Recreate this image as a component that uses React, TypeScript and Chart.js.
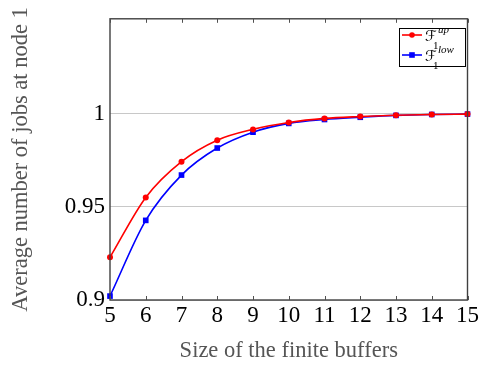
import React, { useEffect, useRef } from "react";
import { Chart, registerables } from "chart.js";

Chart.register(...registerables);

const bufferSizes = [5, 6, 7, 8, 9, 10, 11, 12, 13, 14, 15];
const upperBound = [0.9229, 0.955, 0.9742, 0.9857, 0.9915, 0.9952, 0.9974, 0.9984, 0.9991, 0.9995, 0.9997];
const lowerBound = [0.9021, 0.9427, 0.967, 0.9815, 0.9900, 0.9947, 0.9968, 0.998, 0.999, 0.9995, 0.9997];
const yTickValues = [0.9, 0.95, 1];
const xTickValues = [5, 6, 7, 8, 9, 10, 11, 12, 13, 14, 15];
const legendLabels = [
  { base: "ℱ", sub: "1", sup: "up" },
  { base: "ℱ", sub: "1", sup: "low" },
];

const SERIF = "'Liberation Serif', 'DejaVu Serif', serif";

const framePlugin = {
  id: "frame",
  afterDraw(chart: any) {
    const { ctx, chartArea } = chart;
    const { left, right, top, bottom } = chartArea;
    const xs = chart.scales.x;
    ctx.save();
    ctx.strokeStyle = "#404040";
    ctx.lineWidth = 1.4;
    ctx.strokeRect(left, top, right - left, bottom - top);
    ctx.lineWidth = 1;
    ctx.strokeStyle = "#505050";
    for (const v of xTickValues) {
      const px = Math.round(xs.getPixelForValue(v)) + 0.5;
      ctx.beginPath();
      ctx.moveTo(px, bottom);
      ctx.lineTo(px, bottom - 4);
      ctx.moveTo(px, top);
      ctx.lineTo(px, top + 4);
      ctx.stroke();
    }
    // legend
    const bx = 399, by = 28, bw = 66, bh = 38;
    ctx.fillStyle = "#ffffff";
    ctx.fillRect(bx, by, bw, bh);
    ctx.strokeStyle = "#000000";
    ctx.lineWidth = 1;
    ctx.strokeRect(bx + 0.5, by + 0.5, bw, bh);
    const colors = ["#ff0000", "#0000ff"];
    legendLabels.forEach((lab, i) => {
      const cy = by + 7 + i * 20;
      ctx.strokeStyle = colors[i];
      ctx.fillStyle = colors[i];
      ctx.lineWidth = 1.6;
      ctx.beginPath();
      ctx.moveTo(bx + 3, cy);
      ctx.lineTo(bx + 23, cy);
      ctx.stroke();
      if (i === 0) {
        ctx.beginPath();
        ctx.arc(bx + 13, cy, 2.8, 0, Math.PI * 2);
        ctx.fill();
      } else {
        ctx.fillRect(bx + 10.2, cy - 2.8, 5.6, 5.6);
      }
      ctx.fillStyle = "#000000";
      ctx.textBaseline = "alphabetic";
      ctx.textAlign = "left";
      ctx.font = `15px 'DejaVu Sans', ${SERIF}`;
      ctx.fillText(lab.base, bx + 26, cy + 6);
      ctx.font = `11px ${SERIF}`;
      ctx.fillText(lab.sub, bx + 34, cy + 14);
      ctx.font = `italic 11px ${SERIF}`;
      ctx.fillText(lab.sup, bx + 39, cy - 2);
    });
    ctx.restore();
  },
};

export default function App() {
  const canvasRef = useRef<HTMLCanvasElement | null>(null);

  useEffect(() => {
    if (!canvasRef.current) return;
    const chart = new Chart(canvasRef.current, {
      type: "line",
      data: {
        datasets: [
          {
            label: "upper",
            data: bufferSizes.map((x, i) => ({ x, y: upperBound[i] })),
            borderColor: "#ff0000",
            backgroundColor: "#ff0000",
            borderWidth: 1.6,
            pointStyle: "circle",
            pointRadius: 3,
            pointBorderWidth: 0,
            tension: 0.4,
            cubicInterpolationMode: "monotone",
            clip: false as any,
          },
          {
            label: "lower",
            data: bufferSizes.map((x, i) => ({ x, y: lowerBound[i] })),
            borderColor: "#0000ff",
            backgroundColor: "#0000ff",
            borderWidth: 1.6,
            pointStyle: "rect",
            pointRadius: 4,
            pointBorderWidth: 0,
            tension: 0.4,
            cubicInterpolationMode: "monotone",
            clip: false as any,
          },
        ],
      },
      options: {
        animation: false,
        responsive: false,
        maintainAspectRatio: false,
        layout: { padding: { top: 15, right: 12, left: 0, bottom: 0 } },
        plugins: {
          legend: { display: false },
          tooltip: { enabled: false },
        },
        scales: {
          x: {
            type: "linear",
            min: 5,
            max: 15,
            afterFit: (s: any) => {
              s.height = 66;
            },
            afterBuildTicks: (s: any) => {
              s.ticks = xTickValues.map((v) => ({ value: v }));
            },
            grid: { display: false, drawTicks: false },
            border: { display: false },
            ticks: {
              color: "#000000",
              font: { family: SERIF, size: 23 },
              padding: 2,
              maxRotation: 0,
              autoSkip: false,
            },
            title: {
              display: true,
              text: "Size of the finite buffers",
              color: "#555555",
              font: { family: SERIF, size: 22.5 },
              padding: { top: 1, bottom: 1 },
            },
          },
          y: {
            type: "linear",
            min: 0.9,
            max: 1.0508,
            afterFit: (s: any) => {
              s.width = 110;
            },
            afterBuildTicks: (s: any) => {
              s.ticks = yTickValues.map((v) => ({ value: v }));
            },
            grid: { color: "#c8c8c8", lineWidth: 1, drawTicks: false },
            border: { display: false },
            ticks: {
              color: "#000000",
              font: { family: SERIF, size: 23 },
              padding: 5,
              callback: (v: any) => String(v),
            },
            title: {
              display: true,
              text: "Average number of jobs at node 1",
              color: "#555555",
              font: { family: SERIF, size: 22.5 },
              padding: { top: 8, bottom: 0 },
            },
          },
        },
      },
      plugins: [framePlugin],
    });
    return () => chart.destroy();
  }, []);

  return (
    <div style={{ position: "absolute", left: 0, top: 0, width: 481, height: 366 }}>
      <canvas ref={canvasRef} width={481} height={366} style={{ width: 481, height: 366 }} />
    </div>
  );
}
